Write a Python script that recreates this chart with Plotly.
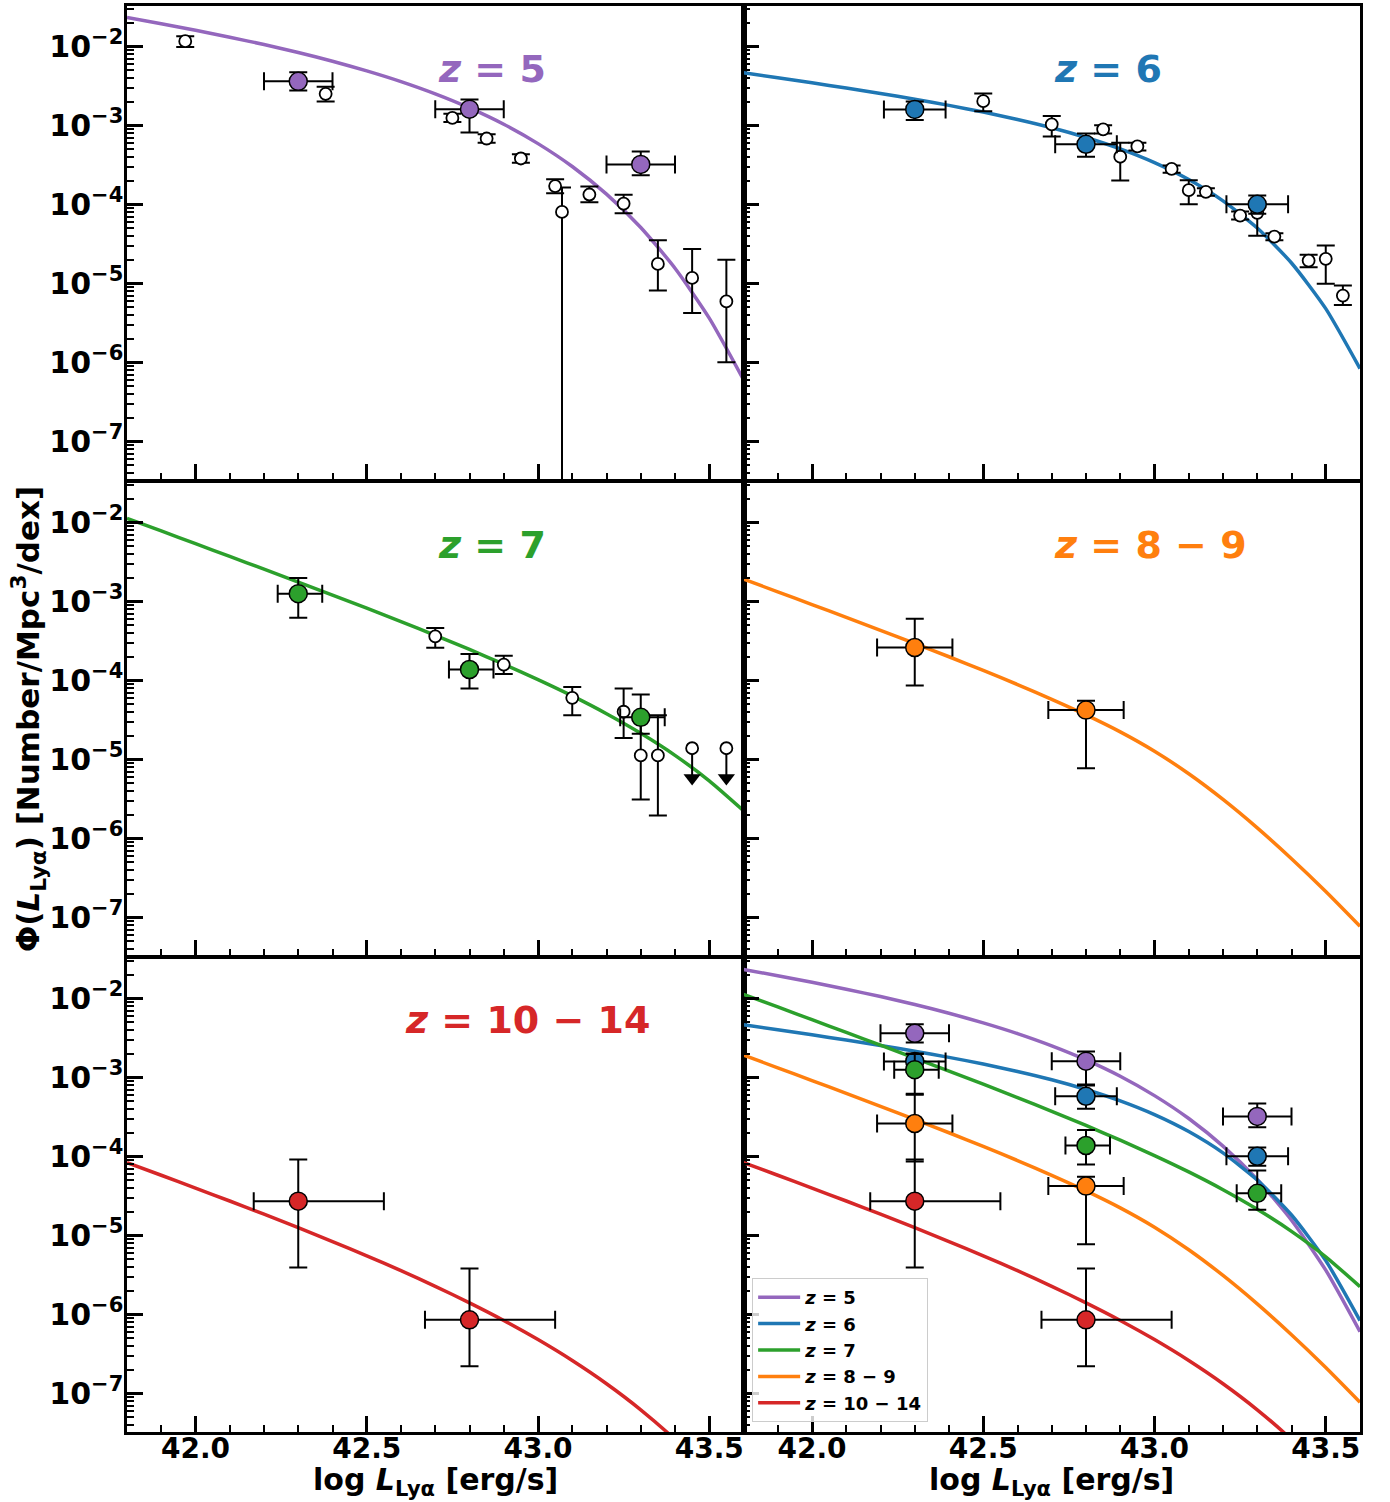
import plotly.graph_objects as go
from plotly.subplots import make_subplots

# ---------------- data ----------------
# model curves (log10 Phi) on a log L grid
L_grid = [41.8, 41.9, 42.0, 42.1, 42.2, 42.3, 42.4, 42.5, 42.6, 42.7,
          42.8, 42.9, 43.0, 43.1, 43.2, 43.3, 43.4, 43.5, 43.6]
logphi_z5 = [-1.635, -1.714, -1.797, -1.885, -1.978, -2.079, -2.189, -2.311, -2.447, -2.602,
             -2.780, -2.987, -3.232, -3.522, -3.872, -4.294, -4.809, -5.441, -6.220]
logphi_z6 = [-2.335, -2.398, -2.462, -2.529, -2.598, -2.670, -2.748, -2.832, -2.926, -3.031,
             -3.154, -3.298, -3.472, -3.687, -3.957, -4.300, -4.743, -5.321, -6.080]
logphi_z7 = [-1.950, -2.110, -2.271, -2.432, -2.594, -2.757, -2.922, -3.088, -3.258, -3.431,
             -3.610, -3.796, -3.991, -4.198, -4.423, -4.671, -4.950, -5.272, -5.650]
logphi_z89 = [-2.720, -2.880, -3.041, -3.203, -3.367, -3.533, -3.702, -3.875, -4.054, -4.241,
              -4.438, -4.653, -4.898, -5.183, -5.508, -5.868, -6.258, -6.673, -7.113]
logphi_z1014 = [-4.080, -4.240, -4.402, -4.566, -4.733, -4.904, -5.079, -5.260, -5.448, -5.646,
                -5.855, -6.078, -6.320, -6.585, -6.879, -7.209, -7.585, -8.018, -8.524]

# filled points (this work)
z5_x = [42.3, 42.8, 43.3]
z5_y = [3.6e-3, 1.6e-3, 3.2e-4]
z5_ylo = [2.75e-3, 8.1e-4, 2.33e-4]
z5_yhi = [4.7e-3, 2.12e-3, 4.65e-4]
z5_xlo = [42.2, 42.7, 43.2]
z5_xhi = [42.4, 42.9, 43.4]

z6_x = [42.3, 42.8, 43.3]
z6_y = [1.59e-3, 5.75e-4, 1.0e-4]
z6_ylo = [1.17e-3, 4.0e-4, 7.6e-5]
z6_yhi = [2.0e-3, 7.9e-4, 1.29e-4]
z6_xlo = [42.21, 42.71, 43.21]
z6_xhi = [42.39, 42.89, 43.39]

z7_x = [42.3, 42.8, 43.3]
z7_y = [1.25e-3, 1.37e-4, 3.4e-5]
z7_ylo = [6.2e-4, 7.9e-5, 2.1e-5]
z7_yhi = [1.97e-3, 2.15e-4, 6.6e-5]
z7_xlo = [42.24, 42.74, 43.24]
z7_xhi = [42.37, 42.87, 43.37]

z89_x = [42.3, 42.8]
z89_y = [2.6e-4, 4.2e-5]
z89_ylo = [8.6e-5, 7.7e-6]
z89_yhi = [6.0e-4, 5.5e-5]
z89_xlo = [42.19, 42.69]
z89_xhi = [42.41, 42.91]

z1014_x = [42.3, 42.8]
z1014_y = [2.7e-5, 8.5e-7]
z1014_ylo = [3.9e-6, 2.2e-7]
z1014_yhi = [9.1e-5, 3.8e-6]
z1014_xlo = [42.17, 42.67]
z1014_xhi = [42.55, 43.05]

# open points (literature)
o5_x = [41.97, 42.38, 42.75, 42.85, 42.95, 43.05, 43.07, 43.15, 43.25, 43.35, 43.45, 43.55]
o5_y = [1.16e-2, 2.5e-3, 1.24e-3, 6.8e-4, 3.8e-4, 1.7e-4, 8.0e-5, 1.33e-4, 1.02e-4, 1.76e-5, 1.17e-5, 5.9e-6]
o5_ylo = [9.8e-3, 2.0e-3, 1.1e-3, 6.0e-4, 3.35e-4, 1.38e-4, 1e-12, 1.06e-4, 7.7e-5, 8.1e-6, 4.2e-6, 1.0e-6]
o5_yhi = [1.34e-2, 3.07e-3, 1.4e-3, 7.7e-4, 4.3e-4, 2.08e-4, 1.63e-4, 1.68e-4, 1.32e-4, 3.5e-5, 2.72e-5, 1.98e-5]

o6_x = [42.50, 42.70, 42.85, 42.90, 42.95, 43.05, 43.10, 43.15, 43.25, 43.30, 43.35, 43.45, 43.50, 43.55]
o6_y = [2.02e-3, 1.03e-3, 8.9e-4, 4.0e-4, 5.4e-4, 2.8e-4, 1.51e-4, 1.44e-4, 7.2e-5, 7.8e-5, 3.9e-5, 1.94e-5, 2.04e-5, 7.0e-6]
o6_ylo = [1.51e-3, 7.2e-4, 7.9e-4, 2.0e-4, 4.8e-4, 2.5e-4, 1.0e-4, 1.28e-4, 6.4e-5, 4.0e-5, 3.5e-5, 1.6e-5, 9.9e-6, 5.3e-6]
o6_yhi = [2.52e-3, 1.31e-3, 1.0e-3, 6.0e-4, 6.0e-4, 3.1e-4, 2.02e-4, 1.6e-4, 8.1e-5, 9.3e-5, 4.3e-5, 2.3e-5, 3.0e-5, 9.4e-6]

o7_x = [42.70, 42.90, 43.10, 43.25, 43.30, 43.35]
o7_y = [3.6e-4, 1.58e-4, 6.0e-5, 4.0e-5, 1.12e-5, 1.12e-5]
o7_ylo = [2.58e-4, 1.2e-4, 3.6e-5, 1.86e-5, 3.1e-6, 1.95e-6]
o7_yhi = [4.6e-4, 2.04e-4, 8.2e-5, 7.9e-5, 3.2e-5, 3.6e-5]

# upper limits at z=7
ul7_x = [43.45, 43.55]
ul7_y = [1.38e-5, 1.38e-5]
ul7_arrow = [5.8e-6, 5.8e-6]

colors = {"z5": "#9467bd", "z6": "#1f77b4", "z7": "#2ca02c", "z89": "#ff7f0e", "z1014": "#d62728"}
labels = {"z5": "5", "z6": "6", "z7": "7", "z89": "8 \u2212 9", "z1014": "10 \u2212 14"}

FONT = "DejaVu Sans"

fig = make_subplots(rows=3, cols=2, horizontal_spacing=0, vertical_spacing=2 / 1429)


def curve(key, logs, row, col, legend=False):
    fig.add_trace(go.Scatter(
        x=L_grid, y=[10 ** v for v in logs], mode="lines",
        line=dict(color=colors[key], width=3.5, shape="spline", smoothing=0.6),
        name="<i>z</i> = " + labels[key], showlegend=legend, hoverinfo="skip"),
        row=row, col=col)


def filled(key, x, y, ylo, yhi, xlo, xhi, row, col):
    fig.add_trace(go.Scatter(
        x=x, y=y, mode="markers",
        marker=dict(size=18, color=colors[key], line=dict(color="black", width=1.5)),
        error_y=dict(type="data", symmetric=False,
                     array=[h - v for h, v in zip(yhi, y)],
                     arrayminus=[v - l for l, v in zip(ylo, y)],
                     color="black", thickness=2, width=9),
        error_x=dict(type="data", symmetric=False,
                     array=[h - v for h, v in zip(xhi, x)],
                     arrayminus=[v - l for l, v in zip(xlo, x)],
                     color="black", thickness=2, width=9),
        showlegend=False, hoverinfo="skip"), row=row, col=col)


def opens(x, y, ylo, yhi, row, col):
    fig.add_trace(go.Scatter(
        x=x, y=y, mode="markers",
        marker=dict(size=12, color="white", line=dict(color="black", width=1.8)),
        error_y=dict(type="data", symmetric=False,
                     array=[h - v for h, v in zip(yhi, y)],
                     arrayminus=[v - l for l, v in zip(ylo, y)],
                     color="black", thickness=2, width=9),
        showlegend=False, hoverinfo="skip"), row=row, col=col)


# panel z=5
curve("z5", logphi_z5, 1, 1)
opens(o5_x, o5_y, o5_ylo, o5_yhi, 1, 1)
filled("z5", z5_x, z5_y, z5_ylo, z5_yhi, z5_xlo, z5_xhi, 1, 1)
# panel z=6
curve("z6", logphi_z6, 1, 2)
opens(o6_x, o6_y, o6_ylo, o6_yhi, 1, 2)
filled("z6", z6_x, z6_y, z6_ylo, z6_yhi, z6_xlo, z6_xhi, 1, 2)
# panel z=7
curve("z7", logphi_z7, 2, 1)
opens(o7_x, o7_y, o7_ylo, o7_yhi, 2, 1)
fig.add_trace(go.Scatter(
    x=ul7_x, y=ul7_y, mode="markers",
    marker=dict(size=12, color="white", line=dict(color="black", width=1.8)),
    error_y=dict(type="data", symmetric=False, array=[0, 0],
                 arrayminus=[v - a for v, a in zip(ul7_y, ul7_arrow)],
                 color="black", thickness=2, width=0),
    showlegend=False, hoverinfo="skip"), row=2, col=1)
fig.add_trace(go.Scatter(
    x=ul7_x, y=ul7_arrow, mode="markers",
    marker=dict(symbol="triangle-down", size=15, color="black"),
    showlegend=False, hoverinfo="skip"), row=2, col=1)
filled("z7", z7_x, z7_y, z7_ylo, z7_yhi, z7_xlo, z7_xhi, 2, 1)
# panel z=8-9
curve("z89", logphi_z89, 2, 2)
filled("z89", z89_x, z89_y, z89_ylo, z89_yhi, z89_xlo, z89_xhi, 2, 2)
# panel z=10-14
curve("z1014", logphi_z1014, 3, 1)
filled("z1014", z1014_x, z1014_y, z1014_ylo, z1014_yhi, z1014_xlo, z1014_xhi, 3, 1)
# combined panel
curve("z5", logphi_z5, 3, 2, True)
curve("z6", logphi_z6, 3, 2, True)
curve("z7", logphi_z7, 3, 2, True)
curve("z89", logphi_z89, 3, 2, True)
curve("z1014", logphi_z1014, 3, 2, True)
filled("z5", z5_x, z5_y, z5_ylo, z5_yhi, z5_xlo, z5_xhi, 3, 2)
filled("z6", z6_x, z6_y, z6_ylo, z6_yhi, z6_xlo, z6_xhi, 3, 2)
filled("z7", z7_x, z7_y, z7_ylo, z7_yhi, z7_xlo, z7_xhi, 3, 2)
filled("z89", z89_x, z89_y, z89_ylo, z89_yhi, z89_xlo, z89_xhi, 3, 2)
filled("z1014", z1014_x, z1014_y, z1014_ylo, z1014_yhi, z1014_xlo, z1014_xhi, 3, 2)

# ---------------- axes ----------------
x_ticks = [42.0, 42.5, 43.0, 43.5]
x_ticktext = ["42.0", "42.5", "43.0", "43.5"]
y_ticks = [1e-7, 1e-6, 1e-5, 1e-4, 1e-3, 1e-2]
y_ticktext = ["10<sup>\u22127</sup>", "10<sup>\u22126</sup>", "10<sup>\u22125</sup>",
              "10<sup>\u22124</sup>", "10<sup>\u22123</sup>", "10<sup>\u22122</sup>"]

xtickfont = dict(family=FONT, size=28, color="black", weight="bold")
ytickfont = dict(family=FONT, size=30, color="black", weight="bold")
for r in range(1, 4):
    for c in range(1, 3):
        fig.update_xaxes(range=[41.8, 43.6], tickmode="array", tickvals=x_ticks, ticktext=x_ticktext,
                         ticks="inside", ticklen=16, tickwidth=2.5, tickcolor="black",
                         minor=dict(tick0=42.0, dtick=0.1, ticks="inside", ticklen=7, tickwidth=1.5,
                                    tickcolor="black"),
                         showline=True, linewidth=2.5, linecolor="black", mirror=True,
                         showgrid=False, zeroline=False, showticklabels=(r == 3),
                         ticklabelstandoff=-10,
                         tickfont=xtickfont, row=r, col=c)
        fig.update_yaxes(type="log", range=[-7.49, -1.49], tickmode="array", tickvals=y_ticks,
                         ticktext=y_ticktext,
                         ticks="inside", ticklen=16, tickwidth=2.5, tickcolor="black",
                         minor=dict(dtick="D1", ticks="inside", ticklen=7, tickwidth=1.5,
                                    tickcolor="black"),
                         showline=True, linewidth=2.5, linecolor="black", mirror=True,
                         showgrid=False, zeroline=False, showticklabels=(c == 1),
                         ticklabelstandoff=-5,
                         tickfont=ytickfont, row=r, col=c)

# ---------------- annotations ----------------
ann = []
panel_text = [("x domain", "y domain", 0.502, 0.868, "z5"),
              ("x2 domain", "y2 domain", 0.500, 0.868, "z6"),
              ("x3 domain", "y3 domain", 0.502, 0.868, "z7"),
              ("x4 domain", "y4 domain", 0.500, 0.868, "z89"),
              ("x5 domain", "y5 domain", 0.447, 0.870, "z1014")]
for xr, yr, xx, yy, key in panel_text:
    ann.append(dict(xref=xr, yref=yr, x=xx, y=yy, xanchor="left", yanchor="middle",
                    text="<i>z</i> = " + labels[key], showarrow=False,
                    font=dict(family=FONT, size=38, color=colors[key], weight="bold")))

xlabel = "log <i>L</i><sub>Ly\u03b1</sub> [erg/s]"
for xx in [0.2502, 0.750]:
    ann.append(dict(xref="paper", yref="paper", x=xx, y=-0.0348, xanchor="center", yanchor="middle",
                    text=xlabel, showarrow=False,
                    font=dict(family=FONT, size=30, color="black", weight="bold")))
ann.append(dict(xref="paper", yref="paper", x=-0.0803, y=0.5, xanchor="center", yanchor="middle",
                textangle=-90, showarrow=False,
                text="\u03a6(<i>L</i><sub>Ly\u03b1</sub>) [Number/Mpc<sup>3</sup>/dex]",
                font=dict(family=FONT, size=31, color="black", weight="bold")))

fig.update_layout(
    width=1390, height=1502,
    margin=dict(l=127, r=30, t=3, b=70),
    paper_bgcolor="white", plot_bgcolor="white",
    annotations=ann,
    legend=dict(x=0.507, y=0.007, xanchor="left", yanchor="bottom", itemwidth=42,
                bgcolor="rgba(255,255,255,0.8)", bordercolor="#cccccc", borderwidth=1,
                font=dict(family=FONT, size=18, color="black", weight="bold")),
)

fig.write_html("out.html")
